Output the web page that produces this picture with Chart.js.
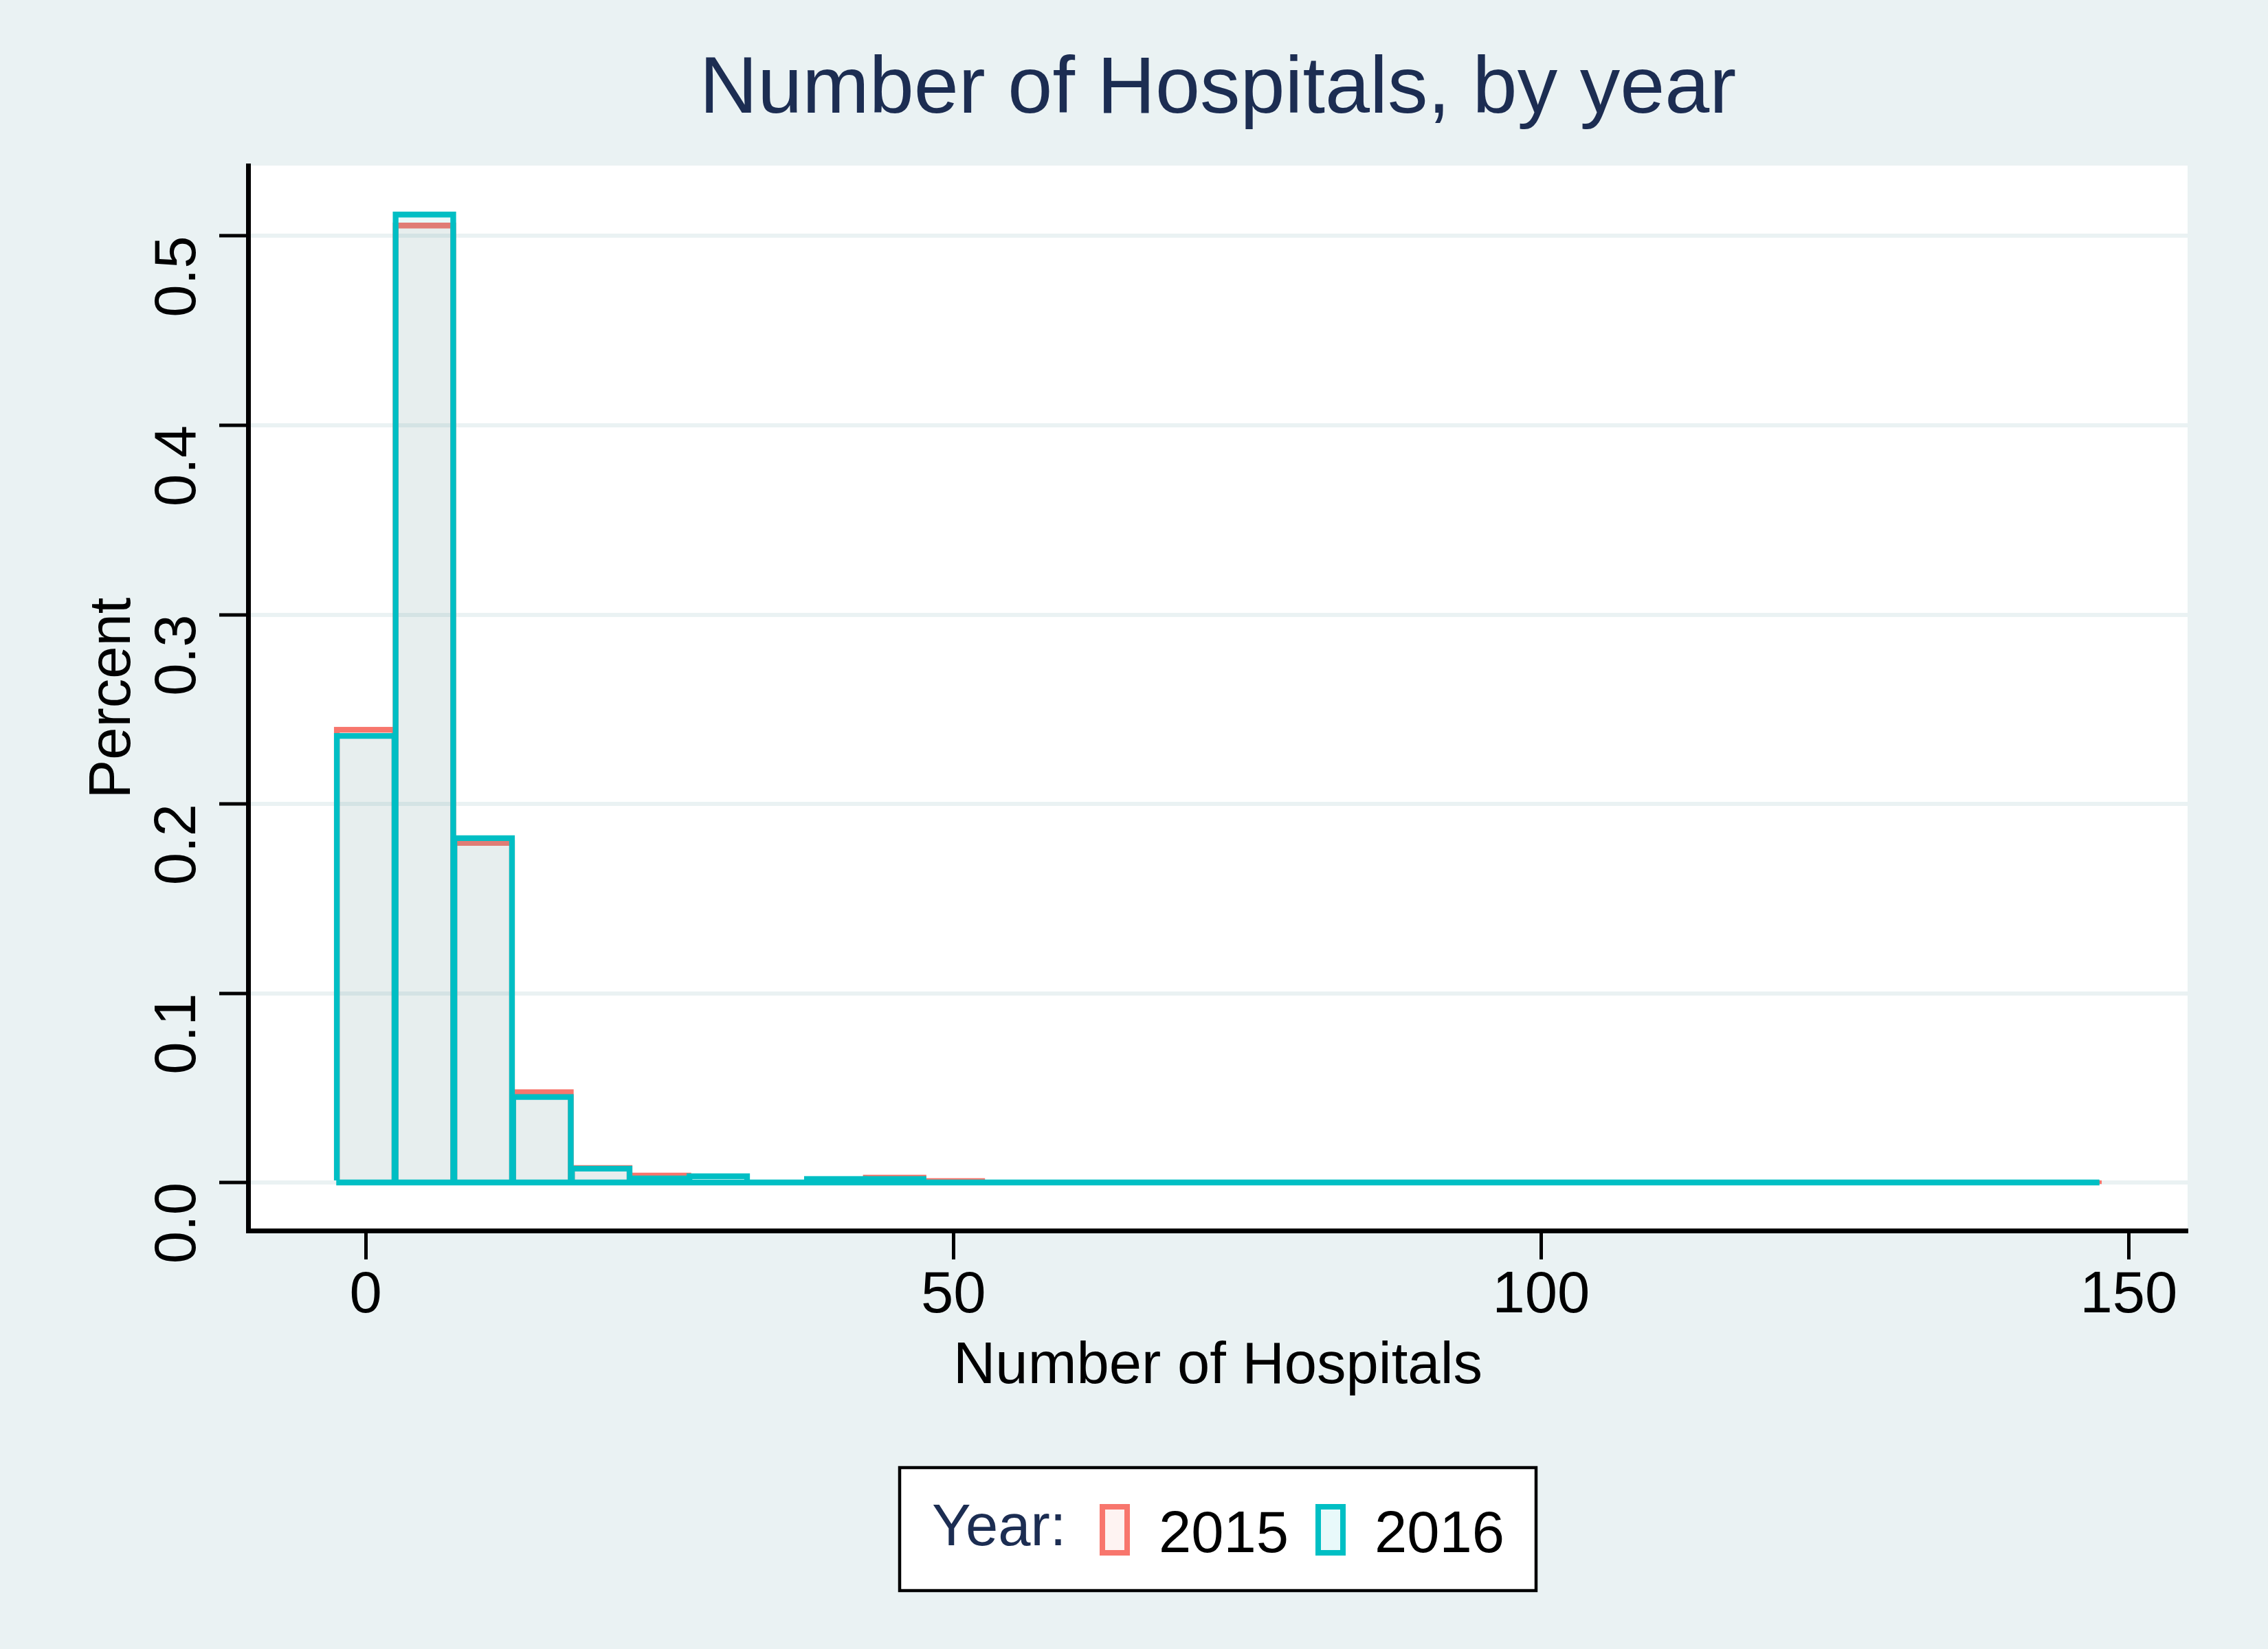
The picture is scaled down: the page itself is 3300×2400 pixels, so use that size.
<!DOCTYPE html>
<html>
<head>
<meta charset="utf-8">
<script src="https://cdn.jsdelivr.net/npm/chart.js@4.4.1/dist/chart.umd.min.js"></script>
<style>
  html, body { margin: 0; padding: 0; background: #eaf2f3; }
  canvas { display: block; }
</style>
</head>
<body>
<canvas id="c" width="3300" height="2400" style="width:3300px;height:2400px"></canvas>
<script>
// ---------------- data ----------------
const binCenters = [0, 5, 10, 15, 20, 25, 30, 35, 40, 45, 50, 55, 60, 65, 70,
                    75, 80, 85, 90, 95, 100, 105, 110, 115, 120, 125, 130, 135, 140, 145];
const binWidth = 5;
const pct2015 = [0.2395, 0.5058, 0.1797, 0.0480, 0.0080, 0.0040, 0.0008, 0.0005, 0.0018, 0.0029,
                 0.0011, 0, 0, 0, 0, 0.0003, 0.0007, 0.0003, 0.0007, 0,
                 0, 0.0003, 0.0004, 0, 0, 0.0003, 0.0006, 0.0007, 0.0003, 0.0004];
const pct2016 = [0.2362, 0.5116, 0.1822, 0.0455, 0.0076, 0.0025, 0.0036, 0.0007, 0.0022, 0.0022,
                 0.0007, 0, 0, 0, 0, 0.0004, 0.0004, 0.0004, 0.0004, 0,
                 0, 0.0004, 0, 0, 0, 0.0004, 0.0007, 0.0004, 0.0004, 0];
const seriesNames = ['2015', '2016'];
const xTickValues = [0, 50, 100, 150];
const xTickLabels = ['0', '50', '100', '150'];
const yTickValues = [0, 0.1, 0.2, 0.3, 0.4, 0.5];
const yTickLabels = ['0.0', '0.1', '0.2', '0.3', '0.4', '0.5'];
const chartTitle = 'Number of Hospitals, by year';
const xTitle = 'Number of Hospitals';
const yTitle = 'Percent';
const legendTitle = 'Year:';

// ---------------- styles ----------------
const FONT = "'Liberation Sans', Arial, Helvetica, sans-serif";
const RED = '#f8766d';
const CYAN = '#00bfc4';
const RED_FILL = 'rgba(248,118,109,0.09)';
const CYAN_FILL = 'rgba(0,191,196,0.09)';
const NAVY = '#1c2d52';
const BG = '#eaf2f3';

Chart.defaults.font.family = FONT;

const toPoints = arr => binCenters.map((c, i) => ({ x: c, y: arr[i] }));
const baseline = [
  { x: binCenters[0] - binWidth / 2, y: 0 },
  { x: binCenters[binCenters.length - 1] + binWidth / 2, y: 0 }
];

const bgPlugin = {
  id: 'bgPlugin',
  beforeDraw(chart) {
    const { ctx, chartArea: ca } = chart;
    ctx.save();
    ctx.fillStyle = BG;
    ctx.fillRect(0, 0, chart.width, chart.height);
    ctx.fillStyle = '#ffffff';
    ctx.fillRect(ca.left, ca.top, ca.right - ca.left, ca.bottom - ca.top);
    ctx.restore();
  }
};

const legendPlugin = {
  id: 'legendPlugin',
  afterDraw(chart) {
    const { ctx, chartArea: ca } = chart;
    const cx = (ca.left + ca.right) / 2;
    const top = ca.bottom + 345;
    const w = 926, h = 179;
    ctx.save();
    ctx.fillStyle = '#ffffff';
    ctx.fillRect(cx - w / 2, top, w, h);
    ctx.lineWidth = 4.5;
    ctx.strokeStyle = '#000000';
    ctx.strokeRect(cx - w / 2, top, w, h);

    ctx.font = '85px ' + FONT;
    ctx.textAlign = 'left';
    ctx.textBaseline = 'alphabetic';
    ctx.fillStyle = NAVY;
    ctx.fillText(legendTitle, cx - 416, ca.bottom + 458);

    const ds = chart.data.datasets;
    const swX = [cx - 172, cx + 142];
    const txX = [cx - 86, cx + 228];
    for (let i = 0; i < 2; i++) {
      const sx = swX[i], sy = ca.bottom + 398, sw = 44, sh = 75, lw = 8;
      ctx.fillStyle = ds[i].backgroundColor;
      ctx.fillRect(sx, sy, sw, sh);
      ctx.lineWidth = lw;
      ctx.strokeStyle = ds[i].borderColor;
      ctx.strokeRect(sx + lw / 2, sy + lw / 2, sw - lw, sh - lw);
      ctx.fillStyle = '#000000';
      ctx.fillText(ds[i].label, txX[i], ca.bottom + 468);
    }
    ctx.restore();
  }
};

const barCommon = {
  type: 'bar',
  grouped: false,
  barPercentage: 1,
  categoryPercentage: 1,
  borderWidth: 1.5,
  inflateAmount: 3.5,
  borderSkipped: 'start'
};

new Chart(document.getElementById('c'), {
  type: 'bar',
  data: {
    datasets: [
      Object.assign({}, barCommon, {
        label: seriesNames[0], data: toPoints(pct2015),
        borderColor: RED, backgroundColor: RED_FILL, order: 2
      }),
      Object.assign({}, barCommon, {
        label: seriesNames[1], data: toPoints(pct2016),
        borderColor: CYAN, backgroundColor: CYAN_FILL, order: 1
      }),
      {
        type: 'line', label: 'baseline', data: baseline,
        borderColor: CYAN, borderWidth: 8.5, pointRadius: 0, fill: false, order: 0
      }
    ]
  },
  options: {
    responsive: false,
    devicePixelRatio: 1,
    animation: false,
    layout: { padding: { left: 0, right: 117, top: 0, bottom: 349 } },
    plugins: {
      legend: { display: false },
      tooltip: { enabled: false },
      title: {
        display: true,
        text: chartTitle,
        color: NAVY,
        fullSize: false,
        font: { size: 117, weight: 'normal', family: FONT, lineHeight: 1.2 },
        padding: { top: 61.8, bottom: 38.8 }
      }
    },
    scales: {
      x: {
        type: 'linear',
        min: -10,
        max: 155,
        offset: false,
        afterBuildTicks: s => { s.ticks = xTickValues.map(v => ({ value: v })); },
        afterFit: s => { s.height = 260; },
        ticks: {
          callback: (v, i) => xTickLabels[i],
          color: '#000',
          font: { size: 85, family: FONT },
          padding: 2.5,
          maxRotation: 0,
          minRotation: 0,
          autoSkip: false
        },
        grid: {
          offset: false,
          drawOnChartArea: false,
          drawTicks: true,
          tickLength: 42,
          tickColor: '#000',
          tickWidth: 5
        },
        border: { display: true, color: '#000', width: 7 },
        title: {
          display: true,
          text: xTitle,
          color: '#000',
          font: { size: 85, family: FONT },
          padding: { top: 0, bottom: 10 }
        }
      },
      y: {
        type: 'linear',
        min: -0.0254,
        max: 0.5372,
        afterBuildTicks: s => { s.ticks = yTickValues.map(v => ({ value: v })); },
        afterFit: s => { s.width = 361; },
        ticks: {
          callback: (v, i) => yTickLabels[i],
          color: '#000',
          font: { size: 85, family: FONT },
          padding: 58,
          minRotation: 90,
          maxRotation: 90
        },
        grid: {
          color: BG,
          lineWidth: 6,
          drawTicks: true,
          tickLength: 42,
          tickColor: '#000',
          tickWidth: 5
        },
        border: { display: true, color: '#000', width: 7 },
        title: {
          display: true,
          text: yTitle,
          color: '#000',
          font: { size: 85, family: FONT },
          padding: { top: 115, bottom: 0 }
        }
      }
    }
  },
  plugins: [bgPlugin, legendPlugin]
});
</script>
</body>
</html>
